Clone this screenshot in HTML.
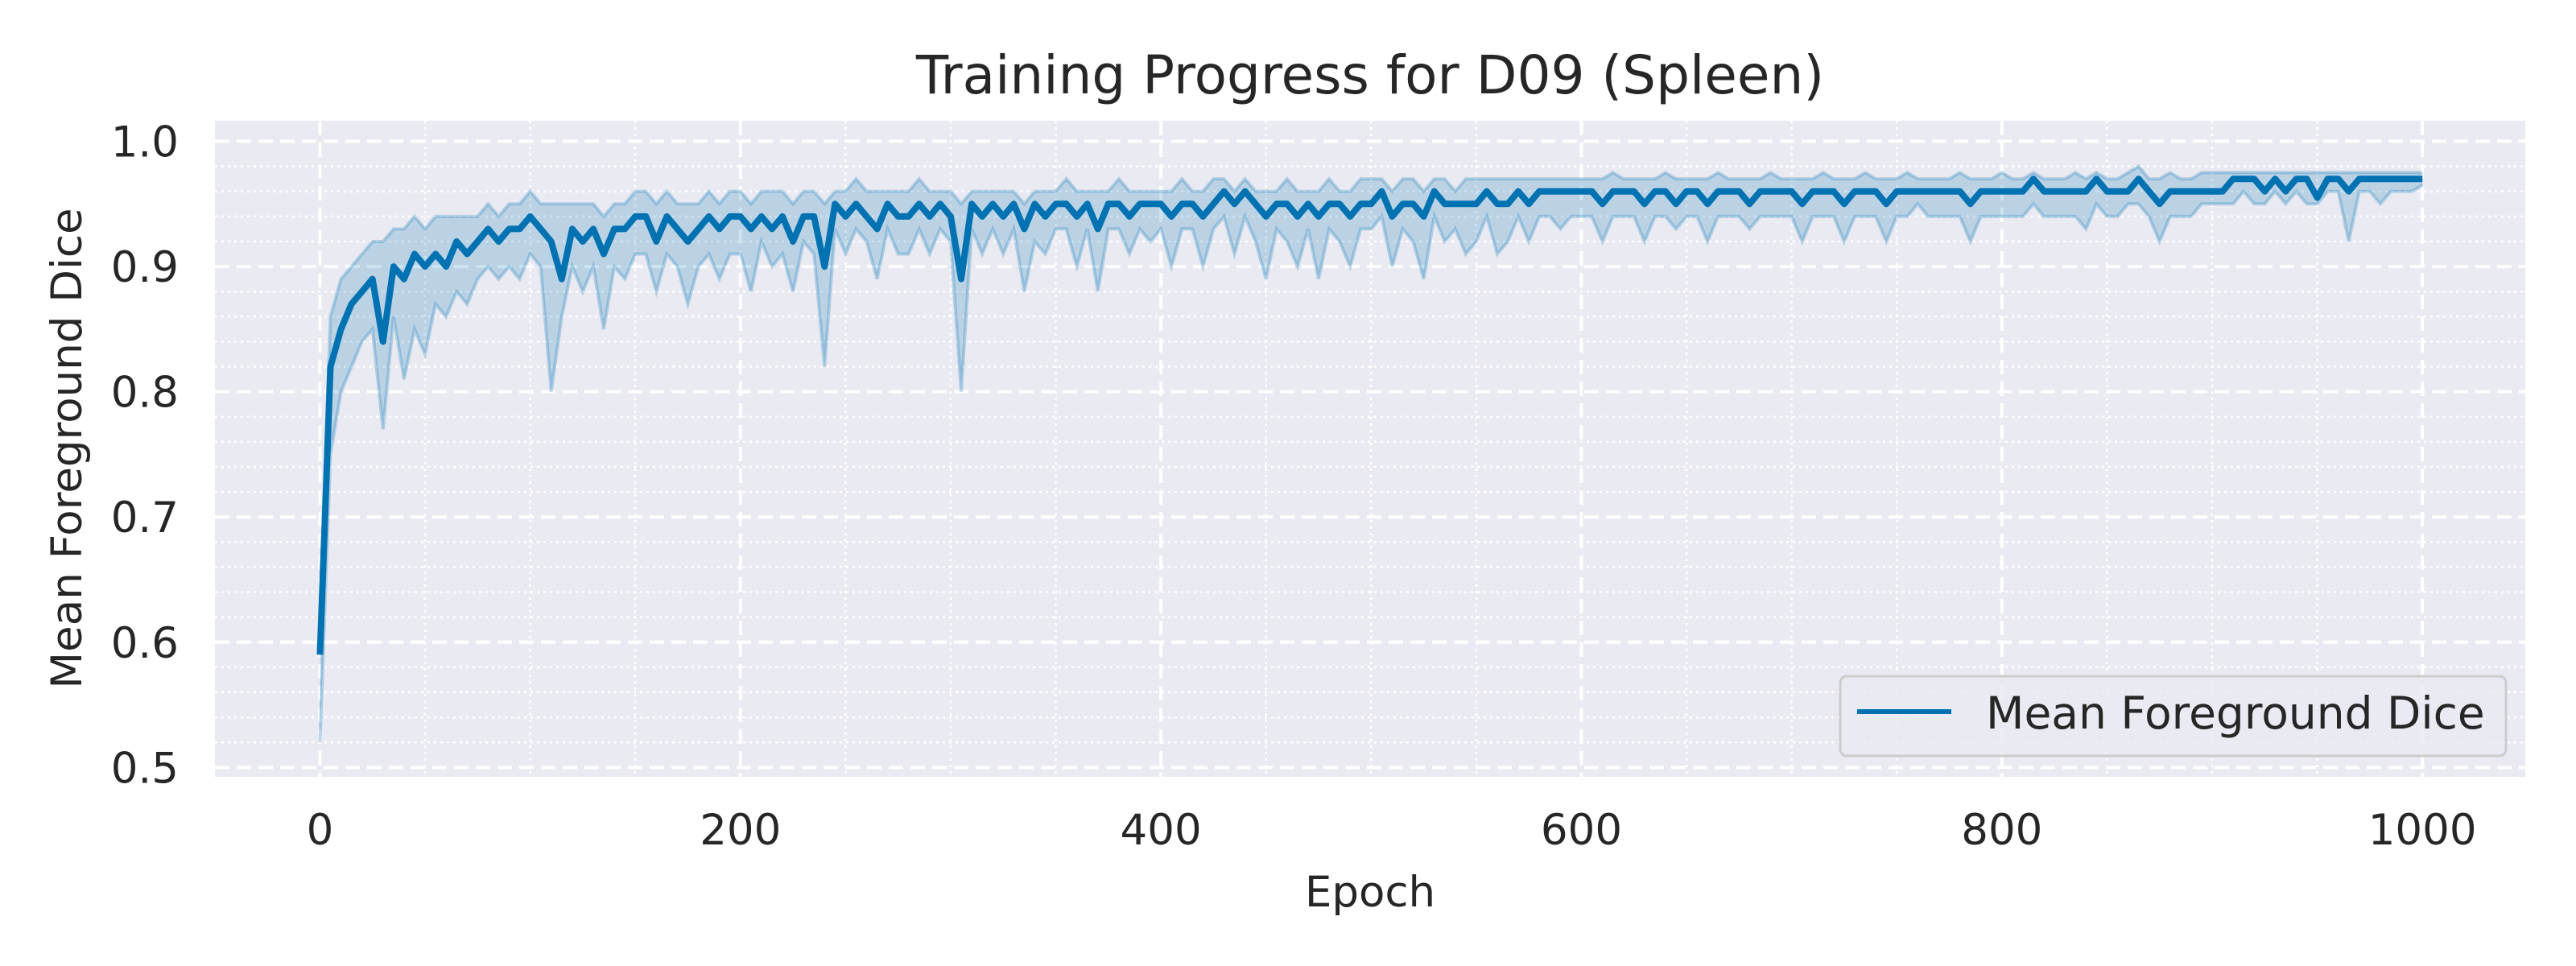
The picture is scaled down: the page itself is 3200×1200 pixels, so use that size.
<!DOCTYPE html>
<html><head><meta charset="utf-8"><style>
html,body{margin:0;padding:0;background:#fff;}
svg{display:block;font-family:"DejaVu Sans","Liberation Sans",sans-serif;}
</style></head><body>
<svg id="chart" width="3200" height="1200" viewBox="0 0 3200 1200" xmlns="http://www.w3.org/2000/svg"></svg>
<script>
const epochs = [];
for (let e = 0; e <= 1000; e += 5) epochs.push(e);
const meanDice = [
0.59,0.82,0.85,0.87,0.88,0.89,0.84,0.90,0.89,0.91,0.90,0.91,0.90,0.92,0.91,0.92,0.93,0.92,0.93,0.93,
0.94,0.93,0.92,0.89,0.93,0.92,0.93,0.91,0.93,0.93,0.94,0.94,0.92,0.94,0.93,0.92,0.93,0.94,0.93,0.94,
0.94,0.93,0.94,0.93,0.94,0.92,0.94,0.94,0.90,0.95,0.94,0.95,0.94,0.93,0.95,0.94,0.94,0.95,0.94,0.95,
0.94,0.89,0.95,0.94,0.95,0.94,0.95,0.93,0.95,0.94,0.95,0.95,0.94,0.95,0.93,0.95,0.95,0.94,0.95,0.95,
0.95,0.94,0.95,0.95,0.94,0.95,0.96,0.95,0.96,0.95,0.94,0.95,0.95,0.94,0.95,0.94,0.95,0.95,0.94,0.95,
0.95,0.96,0.94,0.95,0.95,0.94,0.96,0.95,0.95,0.95,0.95,0.96,0.95,0.95,0.96,0.95,0.96,0.96,0.96,0.96,
0.96,0.96,0.95,0.96,0.96,0.96,0.95,0.96,0.96,0.95,0.96,0.96,0.95,0.96,0.96,0.96,0.95,0.96,0.96,0.96,
0.96,0.95,0.96,0.96,0.96,0.95,0.96,0.96,0.96,0.95,0.96,0.96,0.96,0.96,0.96,0.96,0.96,0.95,0.96,0.96,
0.96,0.96,0.96,0.97,0.96,0.96,0.96,0.96,0.96,0.97,0.96,0.96,0.96,0.97,0.96,0.95,0.96,0.96,0.96,0.96,
0.96,0.96,0.97,0.97,0.97,0.96,0.97,0.96,0.97,0.97,0.955,0.97,0.97,0.96,0.97,0.97,0.97,0.97,0.97,0.97,0.97];
const upperDice = [
0.62,0.86,0.89,0.90,0.91,0.92,0.92,0.93,0.93,0.94,0.93,0.94,0.94,0.94,0.94,0.94,0.95,0.94,0.95,0.95,
0.96,0.95,0.95,0.95,0.95,0.95,0.95,0.94,0.95,0.95,0.96,0.96,0.95,0.96,0.95,0.95,0.95,0.96,0.95,0.96,
0.96,0.95,0.96,0.96,0.96,0.95,0.96,0.96,0.95,0.96,0.96,0.97,0.96,0.96,0.96,0.96,0.96,0.97,0.96,0.96,
0.96,0.95,0.96,0.96,0.96,0.96,0.96,0.95,0.96,0.96,0.96,0.97,0.96,0.96,0.96,0.96,0.97,0.96,0.96,0.96,
0.96,0.96,0.97,0.96,0.96,0.97,0.97,0.96,0.97,0.96,0.96,0.96,0.97,0.96,0.96,0.96,0.97,0.96,0.96,0.97,
0.97,0.97,0.96,0.97,0.97,0.96,0.97,0.97,0.96,0.97,0.97,0.97,0.97,0.97,0.97,0.97,0.97,0.97,0.97,0.97,
0.97,0.97,0.97,0.975,0.97,0.97,0.97,0.97,0.975,0.97,0.97,0.97,0.97,0.975,0.97,0.97,0.97,0.97,0.975,0.97,
0.97,0.97,0.97,0.975,0.97,0.97,0.97,0.975,0.97,0.97,0.97,0.975,0.97,0.97,0.97,0.97,0.975,0.97,0.97,0.97,
0.975,0.97,0.97,0.975,0.97,0.97,0.97,0.975,0.97,0.975,0.97,0.97,0.975,0.98,0.97,0.97,0.975,0.97,0.97,0.975,
0.975,0.975,0.975,0.975,0.975,0.975,0.975,0.975,0.975,0.975,0.975,0.975,0.975,0.975,0.975,0.975,0.975,0.975,0.975,0.975,0.975];
const lowerDice = [
0.52,0.75,0.80,0.82,0.84,0.85,0.77,0.86,0.81,0.85,0.83,0.87,0.86,0.88,0.87,0.89,0.90,0.89,0.90,0.89,
0.91,0.90,0.80,0.86,0.90,0.88,0.90,0.85,0.90,0.89,0.91,0.91,0.88,0.91,0.90,0.87,0.90,0.91,0.89,0.91,
0.91,0.88,0.92,0.90,0.91,0.88,0.92,0.91,0.82,0.93,0.91,0.93,0.92,0.89,0.93,0.91,0.91,0.93,0.91,0.93,
0.92,0.80,0.93,0.91,0.93,0.91,0.93,0.88,0.92,0.91,0.93,0.93,0.90,0.93,0.88,0.93,0.93,0.91,0.93,0.92,
0.93,0.90,0.93,0.93,0.90,0.93,0.94,0.91,0.94,0.92,0.89,0.93,0.92,0.90,0.93,0.89,0.93,0.92,0.90,0.93,
0.93,0.94,0.90,0.93,0.92,0.89,0.94,0.92,0.93,0.91,0.92,0.94,0.91,0.92,0.94,0.92,0.94,0.94,0.93,0.94,
0.94,0.94,0.92,0.94,0.94,0.94,0.92,0.94,0.94,0.93,0.94,0.94,0.92,0.94,0.94,0.94,0.93,0.94,0.94,0.94,
0.94,0.92,0.94,0.94,0.94,0.92,0.94,0.94,0.94,0.92,0.94,0.94,0.95,0.94,0.94,0.94,0.94,0.92,0.94,0.94,
0.94,0.94,0.94,0.95,0.94,0.94,0.94,0.94,0.93,0.95,0.94,0.94,0.95,0.95,0.94,0.92,0.94,0.94,0.94,0.95,
0.95,0.95,0.95,0.96,0.95,0.95,0.96,0.95,0.96,0.95,0.95,0.96,0.96,0.92,0.96,0.96,0.95,0.96,0.96,0.96,0.965];
const xTicks = [0,200,400,600,800,1000];
const yTicks = [0.5,0.6,0.7,0.8,0.9,1.0];
const yTickLabels = ["0.5","0.6","0.7","0.8","0.9","1.0"];

const NS = "http://www.w3.org/2000/svg";
const svg = document.getElementById("chart");
const PL = 267, PR = 3137, PT = 150, PB = 965;
const X0 = -49.95, X1 = 1048.95, Y0 = 0.4925, Y1 = 1.0164;
const xs = v => PL + (v - X0) / (X1 - X0) * (PR - PL);
const ys = v => PB - (v - Y0) / (Y1 - Y0) * (PB - PT);
function mk(tag, attrs, parent) {
  const el = document.createElementNS(NS, tag);
  for (const k in attrs) el.setAttribute(k, attrs[k]);
  (parent || svg).appendChild(el);
  return el;
}
const bg = mk("rect", {x: PL, y: PT, width: PR - PL, height: PB - PT, fill: "#eaeaf2"});



const grid = mk("g", {});


for (let v = 0.5; v <= 1.0001; v += 0.02) {
  const vv = Math.round(v * 100) / 100;
  if (Math.abs(vv * 10 - Math.round(vv * 10)) < 1e-6) continue;
  mk("line", {x1: PL, x2: PR, y1: ys(vv), y2: ys(vv), stroke: "#fff", "stroke-width": 2.5, "stroke-dasharray": "3 5"}, grid);
}
for (let v = -50; v <= 1050; v += 50) {
  if (v % 200 === 0 || v < X0 || v > X1) continue;
  mk("line", {x1: xs(v), x2: xs(v), y1: PT, y2: PB, stroke: "#fff", "stroke-width": 2.5, "stroke-dasharray": "3 5"}, grid);
}
yTicks.forEach(v => mk("line", {x1: PL, x2: PR, y1: ys(v), y2: ys(v), stroke: "#fff", "stroke-width": 4, "stroke-dasharray": "18 9"}, grid));
xTicks.forEach(v => mk("line", {x1: xs(v), x2: xs(v), y1: PT, y2: PB, stroke: "#fff", "stroke-width": 4, "stroke-dasharray": "18 9"}, grid));

let d = "";
epochs.forEach((e, i) => { d += (i ? "L" : "M") + xs(e).toFixed(1) + "," + ys(upperDice[i]).toFixed(1); });
for (let i = epochs.length - 1; i >= 0; i--) d += "L" + xs(epochs[i]).toFixed(1) + "," + ys(lowerDice[i]).toFixed(1);
const band = mk("path", {d: d + "Z", fill: "#0072b2", "fill-opacity": 0.2, stroke: "none"});


function linePath(arr) {
  return epochs.map((e, i) => (i ? "L" : "M") + xs(e).toFixed(1) + "," + ys(arr[i]).toFixed(1)).join("");
}
const up = mk("path", {d: linePath(upperDice), fill: "none", stroke: "#0072b2", "stroke-opacity": 0.25, "stroke-width": 4});


const lo = mk("path", {d: linePath(lowerDice), fill: "none", stroke: "#0072b2", "stroke-opacity": 0.25, "stroke-width": 4});


const mean = mk("path", {d: linePath(meanDice), fill: "none", stroke: "#0072b2", "stroke-width": 8, "stroke-linejoin": "round"});



const tickStyle = {fill: "#262626", "font-size": 53};
xTicks.forEach(v => {
  const t = mk("text", Object.assign({x: xs(v), y: 1049, "text-anchor": "middle"}, tickStyle));
  t.textContent = String(v);
  
  
});
yTicks.forEach((v, i) => {
  const t = mk("text", Object.assign({x: 222, y: ys(v) + 19, "text-anchor": "end"}, tickStyle));
  t.textContent = yTickLabels[i];
  
  
});

const title = mk("text", {x: 1702, y: 116, "text-anchor": "middle", fill: "#262626", "font-size": 66});
title.textContent = "Training Progress for D09 (Spleen)";


const xl = mk("text", {x: 1702, y: 1126, "text-anchor": "middle", fill: "#262626", "font-size": 53});
xl.textContent = "Epoch";


const yl = mk("text", {x: 0, y: 0, "text-anchor": "middle", fill: "#262626", "font-size": 53, transform: "translate(101,557) rotate(-90)"});
yl.textContent = "Mean Foreground Dice";



const lg = mk("g", {});


mk("rect", {x: 2286, y: 840, width: 827, height: 99, rx: 8, fill: "#eaeaf2", "fill-opacity": 0.8, stroke: "#cccccc", "stroke-width": 3}, lg);
mk("line", {x1: 2307, x2: 2424, y1: 884, y2: 884, stroke: "#0072b2", "stroke-width": 6}, lg);
const lt = mk("text", {x: 2467, y: 905, fill: "#262626", "font-size": 55}, lg);
lt.textContent = "Mean Foreground Dice";


</script>
</body></html>
